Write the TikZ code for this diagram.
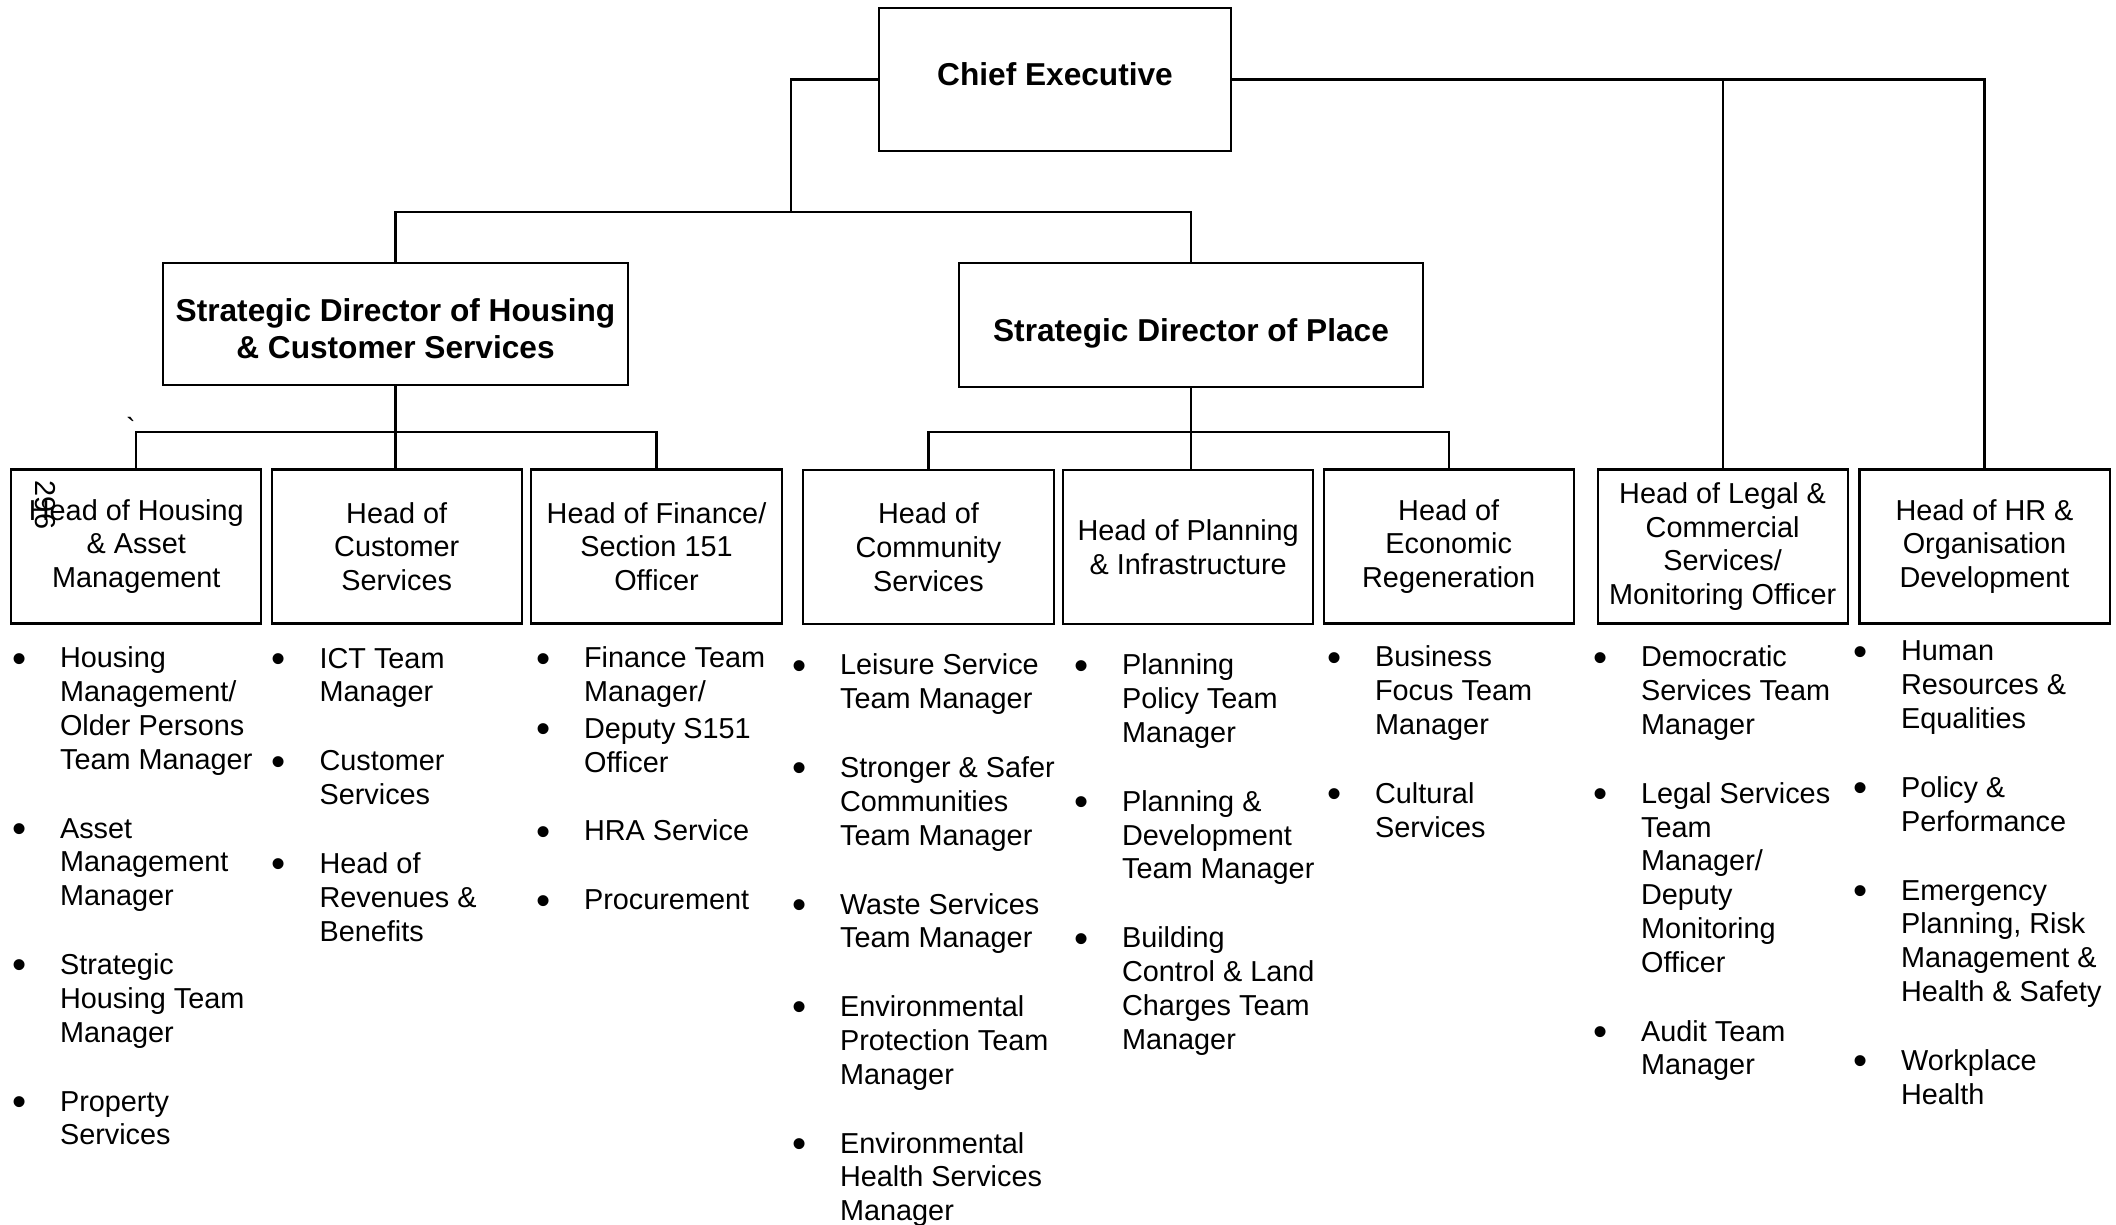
\documentclass[tikz,border=0pt]{standalone}
\usepackage{fontspec}
\setmainfont{Liberation Sans}

\newcommand{\bul}{\llap{\raisebox{-1.2pt}{\scalebox{1.4}{\textbullet}}\hspace{0.335cm}}}

\begin{document}
\begin{tikzpicture}[
    x=0.01cm, y=-0.01cm,
    line width=0.6pt,
    box/.style={rectangle,
        draw,
        text centered,
        align=center,
        inner sep=1pt},
    director/.style={box,
        font=\fontsize{9}{10.75}\selectfont\bfseries},
    head/.style={box,
        outer sep=0pt,
        minimum width=2.5cm,
        minimum height=1.54cm,
        execute at begin node={\rule{0pt}{8.3pt}},
        font=\fontsize{8.2}{9.6}\selectfont},
    duties/.style={anchor=north west,
        align=left,
        inner sep=0pt,
        font=\fontsize{8.2}{9.6}\selectfont},
    ]

    \useasboundingbox (0,0) rectangle (2116,1225);

    % top of the tree
    \node [director, minimum width=3.52cm, minimum height=1.43cm, text depth=3pt] (chief) at (1055,79.5) {Chief Executive};
    \node [director, minimum width=4.65cm, minimum height=1.22cm] (sdhousing) at (395.5,324) {\rule{0pt}{9.2pt}Strategic Director of Housing\\ \& Customer Services};
    \node [director, minimum width=4.63cm, minimum height=1.24cm, text height=11.2pt] (sdplace) at (1191,325) {Strategic Director of Place};

    % heads of service
    \node [head] (hhousing) at (136.3,546.5) {Head of Housing\\ \& Asset\\ Management};
    \node [head] (hcustomer) at (396.7,546.5) {Head of\\ Customer\\ Services};
    \node [head] (hfinance) at (656.5,546.5) {Head of Finance/\\ Section 151\\ Officer};
    \node [head] (hcommunity) at (928.5,547) {Head of\\ Community\\ Services};
    \node [head] (hplanning) at (1188.2,547) {Head of Planning\\ \& Infrastructure};
    \node [head] (heconomic) at (1448.7,546.5) {Head of\\ Economic\\ Regeneration};
    \node [head] (hlegal) at (1722.6,546.5) {Head of Legal \&\\ Commercial\\ Services/\\ Monitoring Officer};
    \node [head] (hhr) at (1984.5,546.5) {Head of HR \&\\ Organisation\\ Development};

    \node [rotate=-90, inner sep=0pt, font=\fontsize{8.2}{9.6}\selectfont] (pageno) at (45,505) {296};
    \node [inner sep=0pt, font=\fontsize{8.2}{9.6}\selectfont] (tick) at (131,428) {\textasciigrave};

    \coordinate (topbar) at (790.8,211.9);
    \coordinate (midbar) at (0,431.8);

    \draw (chief.west) -| (topbar);
    \draw (sdhousing.north) |- (topbar) -| (sdplace.north);
    \draw (chief.east) -| (hhr.north);
    \draw (hlegal.north) |- (chief.east);

    \draw (sdhousing.south) -- (sdhousing.south |- hcustomer.north);
    \draw (hhousing.north) |- (midbar -| hcustomer.north) -| (hfinance.north);
    \draw (sdplace.south) -- (sdplace.south |- hplanning.north);
    \draw (hcommunity.north) |- (midbar -| hplanning.north) -| (heconomic.north);

    % teams under each head
    \node [duties] (lhousing) at (59,646) {\bul Housing\\ Management/\\ Older Persons\\ Team Manager\\[10pt]
        \bul Asset\\ Management\\ Manager\\[10pt]
        \bul Strategic\\ Housing Team\\ Manager\\[10pt]
        \bul Property\\ Services};
    \node [duties] (lcustomer) at (318.5,647) {\bul ICT Team\\ Manager\\[10pt]
        \bul Customer\\ Services\\[10pt]
        \bul Head of\\ Revenues \&\\ Benefits};
    \node [duties] (lfinance) at (583,646) {\bul Finance Team\\ Manager/\\[0.8pt]
        \bul Deputy S151\\ Officer\\[10pt]
        \bul HRA Service\\[10pt]
        \bul Procurement};
    \node [duties] (lcommunity) at (839,653) {\bul Leisure Service\\ Team Manager\\[10pt]
        \bul Stronger \& Safer\\ Communities\\ Team Manager\\[10pt]
        \bul Waste Services\\ Team Manager\\[10pt]
        \bul Environmental\\ Protection Team\\ Manager\\[10pt]
        \bul Environmental\\ Health Services\\ Manager};
    \node [duties] (lplanning) at (1121,653) {\bul Planning\\ Policy Team\\ Manager\\[10pt]
        \bul Planning \&\\ Development\\ Team Manager\\[10pt]
        \bul Building\\ Control \& Land\\ Charges Team\\ Manager};
    \node [duties] (leconomic) at (1374,645) {\bul Business\\ Focus Team\\ Manager\\[10pt]
        \bul Cultural\\ Services};
    \node [duties] (llegal) at (1640,645) {\bul Democratic\\ Services Team\\ Manager\\[10pt]
        \bul Legal Services\\ Team\\ Manager/\\ Deputy\\ Monitoring\\ Officer\\[10pt]
        \bul Audit Team\\ Manager};
    \node [duties] (lhr) at (1900,640) {\bul Human\\ Resources \&\\ Equalities\\[10pt]
        \bul Policy \&\\ Performance\\[10pt]
        \bul Emergency\\ Planning, Risk\\ Management \&\\ Health \& Safety\\[10pt]
        \bul Workplace\\ Health};
\end{tikzpicture}
\end{document}
